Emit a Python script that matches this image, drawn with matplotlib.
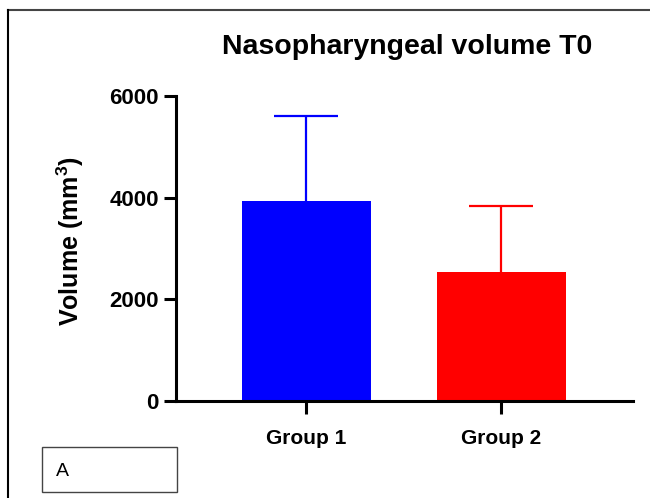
import matplotlib
matplotlib.use("Agg")
import matplotlib.pyplot as plt
from matplotlib.lines import Line2D
from matplotlib.patches import Rectangle

# data
groups = ["Group 1", "Group 2"]
means = [3940, 2545]
sds = [1665, 1290]
bar_colors = ["#0000ff", "#ff0000"]
y_ticks = [0, 2000, 4000, 6000]

plt.rcParams["font.family"] = ["Liberation Sans", "DejaVu Sans"]
plt.rcParams["mathtext.fontset"] = "custom"
plt.rcParams["mathtext.bf"] = "Liberation Sans:bold"
plt.rcParams["mathtext.rm"] = "Liberation Sans:bold"
plt.rcParams["mathtext.default"] = "bf"

fig = plt.figure(figsize=(6.5, 4.98), dpi=100)
ax = fig.add_axes([0.2708, 0.1948, 0.703, 0.6124])

x = list(range(len(groups)))
ax.bar(x, means, width=0.662, color=bar_colors, zorder=2)
for xi, m, s, c in zip(x, means, sds, bar_colors):
    _, caps, _ = ax.errorbar(xi, m, yerr=[[0], [s]], color=c, elinewidth=1.6,
                             capsize=23, capthick=1.6, zorder=1)
    # only the upper cap is shown
    for cap in caps:
        if cap.get_ydata()[0] <= m:
            cap.set_visible(False)

ax.set_xlim(-0.669, 1.675)
ax.set_ylim(0, 6000)
ax.set_xticks(x)
ax.set_xticklabels(groups, fontsize=15, fontweight="bold")
ax.set_yticks(y_ticks)
ax.set_yticklabels([str(v) for v in y_ticks], fontsize=16, fontweight="bold")

for side in ["top", "right"]:
    ax.spines[side].set_visible(False)
for side in ["left", "bottom"]:
    ax.spines[side].set_linewidth(2.2)
ax.tick_params(axis="both", width=2.2, length=9, color="black")
ax.tick_params(axis="x", pad=11)
ax.tick_params(axis="y", pad=3.5)

ax.set_ylabel("Volume (mm$^3$)", fontsize=18, fontweight="bold")
ax.yaxis.set_label_coords(-0.198, 0.523)

fig.text(407.5 / 650, 1 - 54.3 / 498, "Nasopharyngeal volume T0",
         fontsize=20.5, fontweight="bold", ha="center", va="baseline")

# frame lines around the figure (top and left)
fig.add_artist(Line2D([8.3 / 650, 1.0], [1 - 9.7 / 498, 1 - 9.7 / 498],
                      color="#444444", lw=1.5))
fig.add_artist(Line2D([8.3 / 650, 8.3 / 650], [0.0, 1 - 9.7 / 498],
                      color="black", lw=1.5))

# "A" box
fig.add_artist(Rectangle((41.7 / 650, 1 - 492 / 498), 135 / 650, 44.7 / 498,
                         transform=fig.transFigure, fill=False,
                         edgecolor="#444444", lw=1.0))
fig.text(56 / 650, 1 - 476 / 498, "A", fontsize=14, ha="left", va="baseline")

fig.savefig("out.png", dpi=100)
